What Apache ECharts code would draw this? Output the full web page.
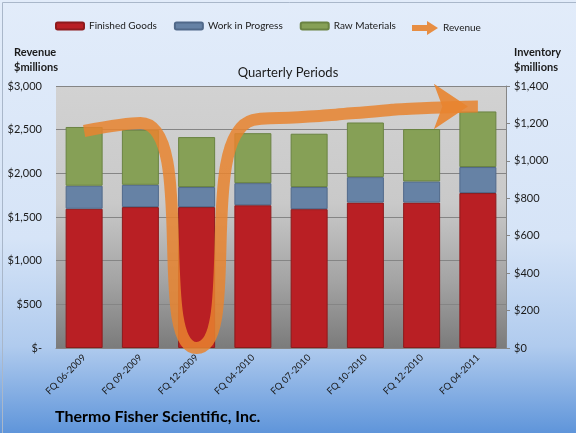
<!DOCTYPE html>
<html>
<head>
<meta charset="utf-8">
<script src="https://cdn.jsdelivr.net/npm/echarts@6/dist/echarts.min.js"></script>
<style>
  html, body { margin: 0; padding: 0; }
  #chart { width: 576px; height: 433px; }
</style>
</head>
<body>
<div id="chart"></div>
<script>
var quarters = ["FQ 06-2009", "FQ 09-2009", "FQ 12-2009", "FQ 04-2010",
                "FQ 07-2010", "FQ 10-2010", "FQ 12-2010", "FQ 04-2011"];
var finishedGoods = [744, 753, 753, 763, 742, 777, 777, 828];
var workInProgress = [123, 119, 107, 118, 118, 136, 113, 139];
var rawMaterials = [314, 294, 267, 267, 285, 292, 280, 297];
var revenue = [2485, 2575, 0, 2610, 2650, 2700, 2745, 2765];

var font = "Lato, 'Noto Sans', sans-serif";
var myChart = echarts.init(document.getElementById("chart"));

// line data: only the last point carries the arrow head
var revenueData = revenue.map(function (v, i) {
  if (i < revenue.length - 1) return { value: v, symbol: "none" };
  return {
    value: v,
    symbol: "arrow",
    symbolSize: [34, 34],
    symbolRotate: -90,
    symbolOffset: [-10, 0]
  };
});

var barSeries = function (name, data, color, border) {
  return {
    name: name,
    type: "bar",
    stack: "inv",
    yAxisIndex: 1,
    barWidth: 37,
    data: data,
    itemStyle: { color: color, borderColor: border, borderWidth: 1 }
  };
};

var myOption = {
  animation: false,
  backgroundColor: {
    type: "linear", x: 0, y: 0, x2: 0, y2: 1,
    colorStops: [
      { offset: 0, color: "#E2ECFA" },
      { offset: 0.55, color: "#D6E4F7" },
      { offset: 0.8, color: "#B0CBEE" },
      { offset: 1, color: "#5F95DA" }
    ]
  },
  textStyle: { fontFamily: font, color: "#1a1a1a" },
  title: [
    {
      text: "Quarterly Periods",
      left: "center",
      top: 61,
      textStyle: { fontFamily: font, fontSize: 13, fontWeight: "normal", color: "#1a1a1a" }
    },
    {
      text: "Thermo Fisher Scientific, Inc.",
      left: 50,
      top: 404,
      textStyle: { fontFamily: font, fontSize: 16, fontWeight: "bold", color: "#000" }
    }
  ],
  graphic: [
    {
      type: "text", left: 14, top: 45,
      style: { text: "Revenue\n$millions", font: "bold 11px " + font, fill: "#1a1a1a", align: "center", lineHeight: 15 }
    },
    {
      type: "text", left: 514, top: 45,
      style: { text: "Inventory\n$millions", font: "bold 11px " + font, fill: "#1a1a1a", align: "center", lineHeight: 15 }
    },
    {
      type: "rect", left: 0, top: 0,
      shape: { width: 575, height: 432 },
      style: { fill: "none", stroke: "#A9B7CA", lineWidth: 1 }
    }
  ],
  legend: [
    {
      left: 50, top: 16,
      itemWidth: 28, itemHeight: 7, itemGap: 17,
      textStyle: { fontFamily: font, fontSize: 10, color: "#1a1a1a" },
      data: ["Finished Goods", "Work in Progress", "Raw Materials"]
    },
    {
      left: 407, top: 16,
      itemWidth: 26, itemHeight: 14,
      textStyle: { fontFamily: font, fontSize: 10, color: "#1a1a1a" },
      data: [{ name: "Revenue", icon: "path://M0,4 L15,4 L15,0 L26,7 L15,14 L15,10 L0,10 Z" }]
    }
  ],
  grid: {
    left: 56, right: 70, top: 86, bottom: 85,
    show: true,
    borderWidth: 0,
    backgroundColor: {
      type: "linear", x: 0, y: 0, x2: 0, y2: 1,
      colorStops: [
        { offset: 0, color: "#D2D2D2" },
        { offset: 0.45, color: "#C9C9C9" },
        { offset: 0.75, color: "#A3A3A3" },
        { offset: 1, color: "#7B7B7B" }
      ]
    }
  },
  xAxis: {
    type: "category",
    data: quarters,
    axisLine: { lineStyle: { color: "#868686" } },
    axisTick: { show: false },
    axisLabel: { rotate: 45, fontSize: 9.5, color: "#1a1a1a", margin: 8 }
  },
  yAxis: [
    {
      type: "value",
      min: 0, max: 3000, interval: 500,
      axisLine: { show: false },
      axisTick: { show: false },
      splitLine: { lineStyle: { color: "#858585" } },
      axisLabel: {
        fontSize: 11, color: "#1a1a1a", margin: 14,
        formatter: function (v) { return v === 0 ? "$-" : "$" + v.toLocaleString("en-US"); }
      }
    },
    {
      type: "value",
      min: 0, max: 1400, interval: 200,
      axisLine: { show: true, lineStyle: { color: "#868686" } },
      axisTick: { show: true, length: 4, lineStyle: { color: "#868686" } },
      splitLine: { show: false },
      axisLabel: {
        fontSize: 11, color: "#1a1a1a", margin: 8,
        formatter: function (v) { return "$" + v.toLocaleString("en-US"); }
      }
    }
  ],
  series: [
    barSeries("Finished Goods", finishedGoods, "#B91F24", "#8E1A1C"),
    barSeries("Work in Progress", workInProgress, "#6682A5", "#50698A"),
    barSeries("Raw Materials", rawMaterials, "#86A056", "#6A8342"),
    {
      name: "Revenue",
      type: "line",
      yAxisIndex: 0,
      smooth: 0.8,
      data: revenueData,
      color: "#E8842F",
      lineStyle: { width: 12, color: "#E8842F", opacity: 0.85 },
      itemStyle: { color: "#E8842F", opacity: 0.9 },
      z: 5
    }
  ]
};

myChart.setOption(myOption);
</script>
</body>
</html>
